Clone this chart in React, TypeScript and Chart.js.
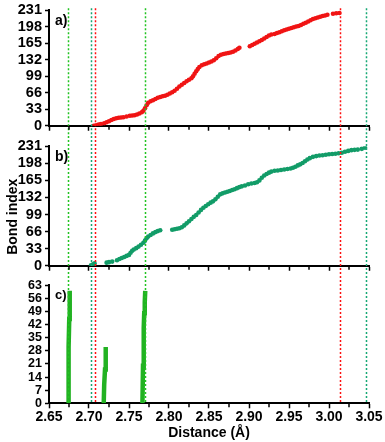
import React, { useEffect, useRef } from "react";
import { Chart, registerables } from "chart.js";

Chart.register(...registerables);

// ---------- data ----------
const X_MIN = 2.65;
const X_MAX = 3.05;
const X_STEP = 0.05;
const X_MINOR_TICKS = [2.675, 2.725, 2.775, 2.825, 2.875, 2.925, 2.975, 3.025];

const Y_AB_MAX = 231;
const Y_AB_STEP = 33;
const Y_C_MAX = 63;
const Y_C_STEP = 7;

// panel a) (red)
const A_X = [
  2.706, 2.709, 2.712, 2.715, 2.719, 2.722, 2.725, 2.728, 2.731, 2.734, 2.737, 2.74, 2.743, 2.747, 2.751,
  2.754, 2.757, 2.76, 2.763, 2.766, 2.768, 2.77, 2.772, 2.774, 2.777, 2.78, 2.783, 2.786, 2.789, 2.792,
  2.795, 2.798, 2.801, 2.804, 2.807, 2.81, 2.813, 2.816, 2.819, 2.822, 2.825, 2.828, 2.83, 2.832, 2.834,
  2.836, 2.838, 2.841, 2.844, 2.847, 2.85, 2.853, 2.856, 2.859, 2.862, 2.865, 2.868, 2.871, 2.874, 2.877,
  2.88, 2.883, 2.886, 2.888, 2.901, 2.904, 2.907, 2.91, 2.913, 2.916, 2.919, 2.922, 2.925, 2.928, 2.932,
  2.935, 2.938, 2.941, 2.944, 2.947, 2.95, 2.953, 2.956, 2.959, 2.962, 2.965, 2.968, 2.971, 2.974, 2.977,
  2.98, 2.983, 2.986, 2.989, 2.992, 2.995, 2.998, 3.005, 3.009, 3.013,
];
const A_Y = [
  0, 1, 2.5, 3.5, 5, 7, 9, 11.5, 13.5, 15, 16, 16.5, 17, 18.5, 20,
  20.5, 21, 22.5, 24.5, 27, 30, 35, 41, 46, 49, 51, 53.5, 56, 57.5, 59,
  60, 62, 64.5, 67, 70, 74, 78.5, 82, 85.5, 89, 92, 95, 99, 104, 109,
  113.5, 117.5, 121, 123, 124.5, 126.5, 128.5, 131, 135, 139.5, 142, 143.5, 144.5, 145.5, 146.5,
  148, 150.5, 153.5, 156, 159, 161.5, 164, 166.5, 169, 171.5, 174.5, 177.5, 180.5, 182.5, 183.5,
  185.5, 187, 189, 191, 192.5, 194, 195.5, 197, 198.5, 199.5, 201.5, 204, 206, 208.5, 211,
  213.5, 215, 216.5, 218, 219.5, 220.5, 222, 224, 225, 225.5,
];

// panel b) (green)
const B_X = [
  2.7025, 2.705, 2.707, 2.722, 2.725, 2.729, 2.735, 2.738, 2.741, 2.744, 2.747, 2.75, 2.752, 2.754, 2.756,
  2.759, 2.762, 2.765, 2.768, 2.77, 2.772, 2.774, 2.777, 2.78, 2.783, 2.786, 2.789, 2.804, 2.807, 2.81,
  2.813, 2.816, 2.819, 2.822, 2.825, 2.828, 2.831, 2.834, 2.837, 2.84, 2.843, 2.846, 2.849, 2.852, 2.855,
  2.858, 2.861, 2.864, 2.867, 2.87, 2.873, 2.876, 2.879, 2.882, 2.885, 2.888, 2.891, 2.895, 2.899, 2.903,
  2.907, 2.91, 2.913, 2.916, 2.919, 2.922, 2.925, 2.928, 2.932, 2.936, 2.94, 2.944, 2.948, 2.952, 2.955,
  2.958, 2.961, 2.964, 2.967, 2.97, 2.973, 2.976, 2.98, 2.984, 2.988, 2.992, 2.996, 3.0, 3.004, 3.008,
  3.012, 3.016, 3.02, 3.024, 3.028, 3.032, 3.036, 3.041, 3.045,
];
const B_Y = [
  1, 3, 4.5, 6, 7, 8, 10.5, 13, 15, 17, 19, 21, 25, 29, 31.5,
  34, 37, 40.5, 44.5, 48.5, 53, 56.5, 59.5, 62.5, 65, 67, 68.5, 69.5, 70.5, 71.5,
  72.5, 74.5, 78, 82, 86, 90.5, 94.5, 98, 103, 108, 112, 115.5, 119, 122, 124.5,
  128.5, 133.5, 138, 140, 141.5, 143, 144.5, 146.5, 148, 150, 152, 153.5, 155, 157.5, 159,
  160, 161.5, 165, 170, 174.5, 177.5, 180, 182, 183.5, 184, 185, 186, 187, 188, 189.5,
  191.5, 194, 196, 198.5, 202, 205.5, 208, 210.5, 212, 213, 213.5, 214.5, 215.5, 216, 216.5,
  217.5, 218.5, 220.5, 222, 223.5, 224, 224.5, 226, 228,
];

// panel c) (three vertical groups)
const C1_X = [2.6738, 2.6742, 2.6748, 2.6753, 2.6759];
const C1_Y = [0, 15, 30, 45, 60];
const C2_X = [2.7184, 2.719, 2.72, 2.7206, 2.7212];
const C2_Y = [0, 10, 18, 24, 30];
const C3_X = [2.7668, 2.7675, 2.7684, 2.769, 2.7697, 2.7703];
const C3_Y = [0, 20, 40, 48, 54, 60];

// dashed reference lines
const MARKER_X = [2.674, 2.7025, 2.707, 2.7705, 3.0142, 3.0467];
const MARKER_COLOR = ["#22c422", "#16a874", "#ff1010", "#22c422", "#ff1010", "#16a874"];

const PANEL_LABELS = ["a)", "b)", "c)"];
const Y_TITLE = "Bond index";
const X_TITLE = "Distance (Å)";

// ---------- styling ----------
const FONT = "'Liberation Sans', Arial, sans-serif";
const RED = "#f01414";
const TEAL = "rgb(18,156,104)";
const GREEN = "rgb(34,178,34)";

const pts = (xs: number[], ys: number[]) => xs.map((x, i) => ({ x, y: ys[i] }));

type PanelCfg = {
  padTop: number;
  xHeight: number;
  yMax: number;
  yStep: number;
  yFont: number;
  showXLabels: boolean;
  markerTop: "area" | "canvas";
  markerBottom: "area" | "canvas";
  label: string;
  labelFont: number;
  datasets: any[];
  extra?: (ctx: CanvasRenderingContext2D, chart: any) => void;
};

function makeChart(canvas: HTMLCanvasElement, cfg: PanelCfg) {
  const plugin = {
    id: "decor",
    afterDatasetsDraw(chart: any) {
      const { ctx, chartArea, scales } = chart;
      const x = scales.x;
      ctx.save();
      ctx.setLineDash([2, 2]);
      ctx.lineWidth = 1.5;
      const y0 = cfg.markerTop === "area" ? chartArea.top - 2 : 0;
      const y1 = cfg.markerBottom === "area" ? chartArea.bottom : chart.height;
      MARKER_X.forEach((v, i) => {
        const px = Math.round(x.getPixelForValue(v)) + 0.5;
        ctx.strokeStyle = MARKER_COLOR[i];
        ctx.beginPath();
        ctx.moveTo(px, y0);
        ctx.lineTo(px, y1);
        ctx.stroke();
      });
      ctx.restore();
    },
    afterDraw(chart: any) {
      const { ctx, chartArea, scales } = chart;
      const x = scales.x;
      ctx.save();
      ctx.strokeStyle = "#000";
      ctx.lineWidth = 1.5;
      X_MINOR_TICKS.forEach((v) => {
        const px = x.getPixelForValue(v);
        ctx.beginPath();
        ctx.moveTo(px, chartArea.bottom);
        ctx.lineTo(px, chartArea.bottom + 4);
        ctx.stroke();
      });
      ctx.fillStyle = "#000";
      ctx.font = `bold ${cfg.labelFont}px ${FONT}`;
      ctx.textBaseline = "top";
      ctx.textAlign = "left";
      ctx.fillText(cfg.label, chartArea.left + 6, chartArea.top + 4);
      if (cfg.extra) cfg.extra(ctx, chart);
      ctx.restore();
    },
  };

  return new Chart(canvas, {
    type: "scatter",
    data: { datasets: cfg.datasets },
    options: {
      responsive: false,
      maintainAspectRatio: false,
      animation: false,
      events: [],
      layout: { padding: { top: cfg.padTop, right: 16, left: 0, bottom: 0 } },
      plugins: { legend: { display: false }, tooltip: { enabled: false } },
      scales: {
        x: {
          type: "linear",
          min: X_MIN,
          max: X_MAX,
          afterFit: (s: any) => {
            s.height = cfg.xHeight;
          },
          ticks: {
            stepSize: X_STEP,
            display: cfg.showXLabels,
            autoSkip: false,
            maxRotation: 0,
            padding: 2,
            color: "#000",
            font: { family: FONT, size: 14, weight: "bold", lineHeight: 1 },
            callback: (v: any) => Number(v).toFixed(2),
          },
          grid: {
            drawOnChartArea: false,
            drawTicks: true,
            tickLength: 5,
            tickWidth: 1.5,
            tickColor: "#000",
          },
          border: { display: true, color: "#000", width: 2 },
          title: {
            display: cfg.showXLabels,
            text: X_TITLE,
            color: "#000",
            font: { family: FONT, size: 14, weight: "bold", lineHeight: 1.2 },
            padding: { top: 0, bottom: 0 },
          },
        },
        y: {
          type: "linear",
          min: 0,
          max: cfg.yMax,
          afterFit: (s: any) => {
            s.width = 49;
          },
          ticks: {
            stepSize: cfg.yStep,
            autoSkip: false,
            padding: 3,
            color: "#000",
            font: { family: FONT, size: cfg.yFont, weight: "bold", lineHeight: 1 },
          },
          grid: {
            drawOnChartArea: false,
            drawTicks: true,
            tickLength: 4,
            tickWidth: 1.5,
            tickColor: "#000",
          },
          border: { display: true, color: "#000", width: 2 },
        },
      },
    } as any,
    plugins: [plugin],
  });
}

const dotSet = (data: any[], color: string) => ({
  data,
  showLine: false,
  pointRadius: 2.3,
  pointBorderWidth: 0,
  pointBackgroundColor: color,
  pointBorderColor: color,
});

const barSet = (data: any[]) => ({
  data,
  showLine: true,
  borderColor: GREEN,
  borderWidth: 4.5,
  pointRadius: 0,
  borderCapStyle: "butt",
});

const CANVASES = [
  { top: 0, height: 136 },
  { top: 136, height: 140 },
  { top: 276, height: 166 },
];

export default function App() {
  const refA = useRef<HTMLCanvasElement>(null);
  const refB = useRef<HTMLCanvasElement>(null);
  const refC = useRef<HTMLCanvasElement>(null);

  useEffect(() => {
    const charts: Chart[] = [];
    charts.push(
      makeChart(refA.current!, {
        padTop: 7,
        xHeight: 8,
        yMax: Y_AB_MAX,
        yStep: Y_AB_STEP,
        yFont: 14.5,
        showXLabels: false,
        markerTop: "area",
        markerBottom: "canvas",
        label: PANEL_LABELS[0],
        labelFont: 14,
        datasets: [dotSet(pts(A_X, A_Y), RED)],
      })
    );
    charts.push(
      makeChart(refB.current!, {
        padTop: 10,
        xHeight: 10,
        yMax: Y_AB_MAX,
        yStep: Y_AB_STEP,
        yFont: 14.5,
        showXLabels: false,
        markerTop: "canvas",
        markerBottom: "canvas",
        label: PANEL_LABELS[1],
        labelFont: 14,
        datasets: [dotSet(pts(B_X, B_Y), TEAL)],
        extra: (ctx) => {
          ctx.save();
          ctx.translate(13, 80.7);
          ctx.rotate(-Math.PI / 2);
          ctx.font = `bold 14px ${FONT}`;
          ctx.textAlign = "center";
          ctx.textBaseline = "middle";
          ctx.fillStyle = "#000";
          ctx.fillText(Y_TITLE, 0, 0);
          ctx.restore();
        },
      })
    );
    charts.push(
      makeChart(refC.current!, {
        padTop: 6,
        xHeight: 38.7,
        yMax: Y_C_MAX,
        yStep: Y_C_STEP,
        yFont: 12.5,
        showXLabels: true,
        markerTop: "canvas",
        markerBottom: "area",
        label: PANEL_LABELS[2],
        labelFont: 13,
        datasets: [barSet(pts(C1_X, C1_Y)), barSet(pts(C2_X, C2_Y)), barSet(pts(C3_X, C3_Y))],
      })
    );
    return () => charts.forEach((c) => c.destroy());
  }, []);

  const refs = [refA, refB, refC];
  return (
    <div style={{ position: "absolute", left: 0, top: 0, width: 385, height: 442, background: "#fff" }}>
      {CANVASES.map((c, i) => (
        <canvas
          key={i}
          ref={refs[i]}
          width={385}
          height={c.height}
          style={{ position: "absolute", left: 0, top: c.top, width: 385, height: c.height, display: "block" }}
        />
      ))}
    </div>
  );
}
